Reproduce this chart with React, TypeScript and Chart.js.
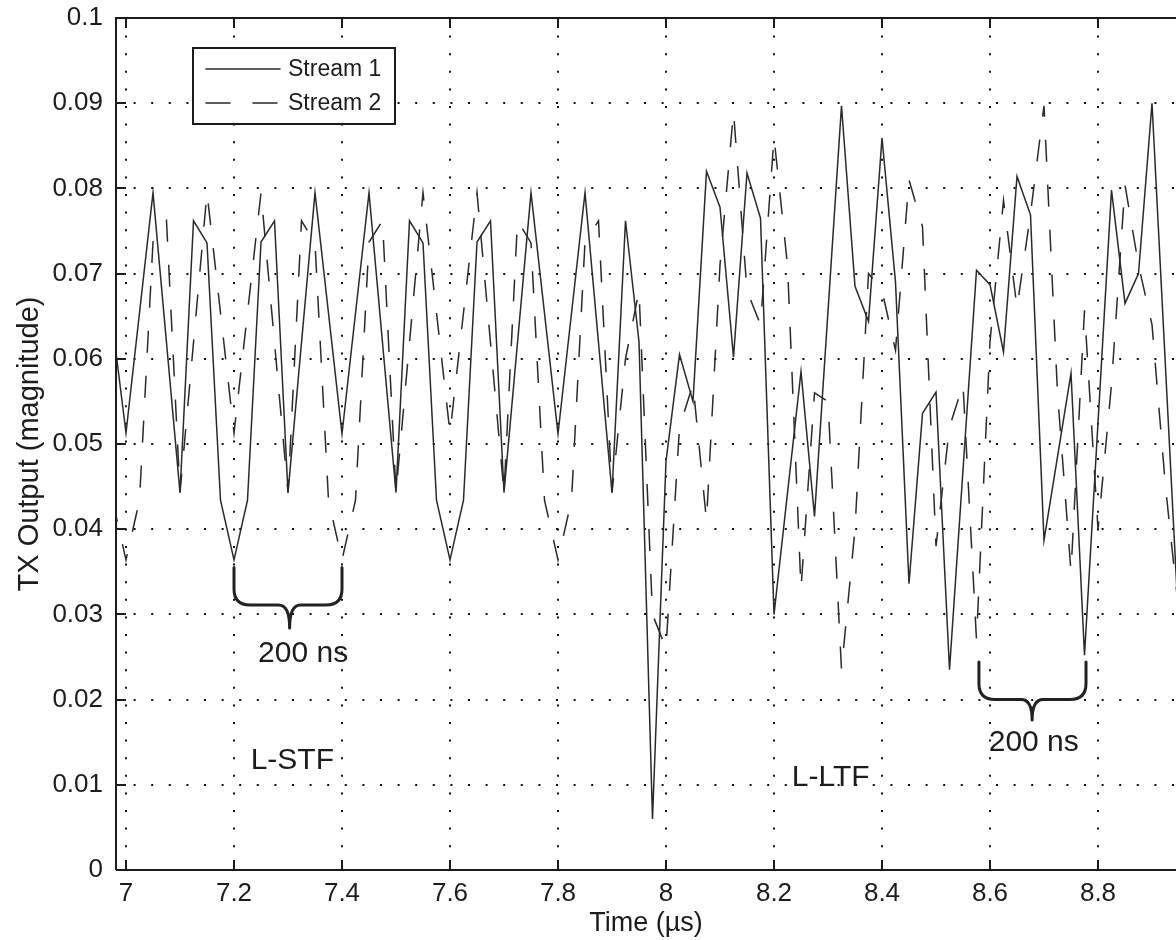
import React, { useEffect, useRef } from "react";
import { Chart, registerables } from "chart.js";

Chart.register(...registerables);

const FONT = "'Liberation Sans', Arial, Helvetica, sans-serif";

// ---- data ----
const stream1Time = [
  6.975, 7.0, 7.05, 7.1, 7.125, 7.15, 7.175, 7.2, 7.225, 7.25, 7.275, 7.3, 7.35, 7.4,
  7.45, 7.5, 7.525, 7.55, 7.575, 7.6, 7.625, 7.65, 7.675, 7.7, 7.75, 7.8, 7.85, 7.9,
  7.925, 7.95, 7.975, 8.0, 8.025, 8.05, 8.075, 8.1, 8.125, 8.15, 8.175, 8.2, 8.25,
  8.275, 8.325, 8.35, 8.375, 8.4, 8.425, 8.45, 8.475, 8.5, 8.525, 8.575, 8.6, 8.625,
  8.65, 8.675, 8.7, 8.75, 8.775, 8.825, 8.85, 8.875, 8.9, 8.95,
];
const stream1Magnitude = [
  0.064, 0.0513, 0.0795, 0.0443, 0.0762, 0.0736, 0.0434, 0.0364, 0.0434, 0.0737, 0.0762, 0.0443, 0.0795, 0.0512,
  0.0795, 0.0443, 0.0762, 0.0736, 0.0434, 0.0364, 0.0434, 0.0737, 0.0762, 0.0443, 0.0795, 0.0512, 0.0795, 0.0443,
  0.0762, 0.062, 0.006, 0.048, 0.0605, 0.055, 0.082, 0.0778, 0.0602, 0.0818, 0.0765, 0.030, 0.0585,
  0.0415, 0.0897, 0.0685, 0.0644, 0.0859, 0.069, 0.0336, 0.0536, 0.0561, 0.0235, 0.0704, 0.0687, 0.0608,
  0.0814, 0.0769, 0.0387, 0.0583, 0.0252, 0.0798, 0.0665, 0.070, 0.090, 0.028,
];

const stream2Time = [
  6.975, 7.0, 7.025, 7.05, 7.075, 7.1, 7.15, 7.2, 7.25, 7.3, 7.325, 7.35, 7.375, 7.4,
  7.425, 7.45, 7.475, 7.5, 7.55, 7.6, 7.65, 7.7, 7.725, 7.75, 7.775, 7.8, 7.825, 7.85,
  7.875, 7.9, 7.925, 7.95, 7.975, 8.0, 8.025, 8.05, 8.075, 8.1, 8.125, 8.15, 8.175,
  8.2, 8.225, 8.25, 8.275, 8.3, 8.325, 8.35, 8.375, 8.4, 8.425, 8.45, 8.475, 8.5,
  8.525, 8.55, 8.575, 8.6, 8.625, 8.65, 8.675, 8.7, 8.725, 8.75, 8.775, 8.8, 8.825,
  8.85, 8.875, 8.9, 8.925, 8.95,
];
const stream2Magnitude = [
  0.0434, 0.0364, 0.0434, 0.0737, 0.0762, 0.0443, 0.0795, 0.0513, 0.0795, 0.0443, 0.0762, 0.0736, 0.0434, 0.0364,
  0.0434, 0.0737, 0.0762, 0.0443, 0.0795, 0.0513, 0.0795, 0.0443, 0.0762, 0.0736, 0.0434, 0.0364, 0.0434, 0.0737,
  0.0762, 0.0443, 0.060, 0.068, 0.030, 0.026, 0.052, 0.057, 0.041, 0.071, 0.089, 0.068, 0.064,
  0.086, 0.071, 0.033, 0.056, 0.055, 0.0235, 0.040, 0.070, 0.068, 0.061, 0.081, 0.0755, 0.038,
  0.052, 0.057, 0.027, 0.062, 0.0786, 0.066, 0.077, 0.0897, 0.056, 0.035, 0.0657, 0.040, 0.057,
  0.0804, 0.071, 0.064, 0.045, 0.030,
];

const seriesNames = ["Stream 1", "Stream 2"];
const xTickValues = [7, 7.2, 7.4, 7.6, 7.8, 8, 8.2, 8.4, 8.6, 8.8];
const xTickLabels = ["7", "7.2", "7.4", "7.6", "7.8", "8", "8.2", "8.4", "8.6", "8.8"];
const yTickValues = [0, 0.01, 0.02, 0.03, 0.04, 0.05, 0.06, 0.07, 0.08, 0.09, 0.1];
const yTickLabels = ["0", "0.01", "0.02", "0.03", "0.04", "0.05", "0.06", "0.07", "0.08", "0.09", "0.1"];
const xAxisTitle = "Time (\u00b5s)";
const yAxisTitle = "TX Output (magnitude)";
const xLimits = [6.98148, 8.94444];
const yLimits = [0, 0.1];

// annotations, in data coordinates
const braceFrom = [7.2, 8.5795];
const braceTo = [7.4, 8.7778];
const braceMid = [7.303, 8.678];
const braceTop = [0.0355, 0.0244];
const braceBar = [0.0311, 0.0200];
const braceTip = [0.0284, 0.0176];
const noteTexts = ["200 ns", "200 ns", "L-STF", "L-LTF"];
const noteX = [7.328, 8.681, 7.308, 8.305];
const noteY = [0.0254, 0.0149, 0.0128, 0.0108];

const INK = "#1c1c1c";
const LINE = "#2a2a2a";

const decorations = {
  id: "decorations",
  afterDraw(chart: any) {
    const { ctx, chartArea: a, scales } = chart;
    const xs = scales.x;
    const ys = scales.y;
    ctx.save();

    // axes frame (box), right side cut by the picture edge
    ctx.strokeStyle = INK;
    ctx.lineWidth = 2;
    ctx.setLineDash([]);
    ctx.beginPath();
    ctx.moveTo(a.left, a.bottom);
    ctx.lineTo(a.left, a.top);
    ctx.lineTo(a.right, a.top);
    ctx.moveTo(a.left, a.bottom);
    ctx.lineTo(a.right, a.bottom);
    ctx.stroke();

    // inward tick marks
    ctx.beginPath();
    xTickValues.forEach((v) => {
      const px = Math.round(xs.getPixelForValue(v));
      ctx.moveTo(px, a.bottom);
      ctx.lineTo(px, a.bottom - 10);
      ctx.moveTo(px, a.top);
      ctx.lineTo(px, a.top + 10);
    });
    yTickValues.forEach((v) => {
      const py = Math.round(ys.getPixelForValue(v));
      ctx.moveTo(a.left, py);
      ctx.lineTo(a.left + 10, py);
    });
    ctx.stroke();

    // braces
    ctx.lineWidth = 3;
    ctx.strokeStyle = "#222";
    ctx.lineCap = "round";
    for (let i = 0; i < braceFrom.length; i++) {
      const x1 = xs.getPixelForValue(braceFrom[i]);
      const x2 = xs.getPixelForValue(braceTo[i]);
      const xm = xs.getPixelForValue(braceMid[i]);
      const y0 = ys.getPixelForValue(braceTop[i]);
      const yc = ys.getPixelForValue(braceBar[i]);
      const yt = ys.getPixelForValue(braceTip[i]);
      const r = 16;
      const r2 = 11;
      ctx.beginPath();
      ctx.moveTo(x1, y0);
      ctx.lineTo(x1, yc - r);
      ctx.quadraticCurveTo(x1, yc, x1 + r, yc);
      ctx.lineTo(xm - r2, yc);
      ctx.quadraticCurveTo(xm, yc, xm, yt);
      ctx.moveTo(x2, y0);
      ctx.lineTo(x2, yc - r);
      ctx.quadraticCurveTo(x2, yc, x2 - r, yc);
      ctx.lineTo(xm + r2, yc);
      ctx.quadraticCurveTo(xm, yc, xm, yt);
      ctx.stroke();
    }

    // text notes
    ctx.fillStyle = INK;
    ctx.font = `30px ${FONT}`;
    ctx.textAlign = "center";
    ctx.textBaseline = "middle";
    noteTexts.forEach((t, i) => {
      ctx.fillText(t, xs.getPixelForValue(noteX[i]), ys.getPixelForValue(noteY[i]));
    });

    // legend
    const lx = a.left + 77;
    const ly = a.top + 30;
    const lw = 202;
    const lh = 76;
    ctx.fillStyle = "#ffffff";
    ctx.fillRect(lx, ly, lw, lh);
    ctx.lineWidth = 2;
    ctx.strokeStyle = INK;
    ctx.strokeRect(lx, ly, lw, lh);
    const dsets = chart.data.datasets;
    for (let i = 0; i < dsets.length; i++) {
      const yy = ly + 21 + i * 34;
      ctx.beginPath();
      ctx.lineWidth = 1.6;
      ctx.strokeStyle = LINE;
      ctx.setLineDash(i === 1 ? [24, 23] : []);
      ctx.moveTo(lx + 13, yy);
      ctx.lineTo(lx + 87, yy);
      ctx.stroke();
      ctx.setLineDash([]);
      ctx.fillStyle = INK;
      ctx.font = `23px ${FONT}`;
      ctx.textAlign = "left";
      ctx.textBaseline = "middle";
      ctx.fillText(dsets[i].label, lx + 95, yy + 1);
    }
    ctx.restore();
  },
};

export default function App() {
  const ref = useRef<HTMLCanvasElement | null>(null);

  useEffect(() => {
    if (!ref.current) return;
    const chart = new Chart(ref.current, {
      type: "line",
      data: {
        datasets: [
          {
            label: seriesNames[0],
            data: stream1Time.map((t, i) => ({ x: t, y: stream1Magnitude[i] })),
            borderColor: LINE,
            borderWidth: 1.5,
            pointRadius: 0,
            tension: 0,
            fill: false,
          },
          {
            label: seriesNames[1],
            data: stream2Time.map((t, i) => ({ x: t, y: stream2Magnitude[i] })),
            borderColor: LINE,
            borderWidth: 1.5,
            borderDash: [22, 23],
            pointRadius: 0,
            tension: 0,
            fill: false,
          },
        ],
      },
      options: {
        responsive: false,
        animation: false,
        devicePixelRatio: 1,
        layout: { padding: { top: 18, right: 0, bottom: 0, left: 0 } },
        plugins: {
          legend: { display: false },
          tooltip: { enabled: false },
          title: { display: false },
        },
        scales: {
          x: {
            type: "linear",
            position: "bottom",
            min: xLimits[0],
            max: xLimits[1],
            afterBuildTicks: (scale: any) => {
              scale.ticks = xTickValues.map((value) => ({ value }));
            },
            afterFit: (scale: any) => {
              scale.height = 70;
              scale.paddingLeft = 0;
              scale.paddingRight = 0;
            },
            ticks: {
              autoSkip: false,
              maxRotation: 0,
              padding: 8,
              color: INK,
              font: { family: FONT, size: 26 },
              callback: (_v: any, i: number) => xTickLabels[i],
            },
            grid: {
              color: "#111",
              lineWidth: 2,
              drawTicks: false,
              drawOnChartArea: true,
            },
            border: { display: false, dash: [2, 15.6] },
            title: {
              display: true,
              text: xAxisTitle,
              color: INK,
              font: { family: FONT, size: 27 },
              padding: { top: 0, bottom: 0 },
            },
          },
          y: {
            type: "linear",
            position: "left",
            min: yLimits[0],
            max: yLimits[1],
            afterBuildTicks: (scale: any) => {
              scale.ticks = yTickValues.map((value) => ({ value }));
            },
            afterFit: (scale: any) => {
              scale.width = 116;
              scale.paddingTop = 0;
              scale.paddingBottom = 0;
            },
            ticks: {
              padding: 13,
              color: INK,
              font: { family: FONT, size: 26 },
              callback: (_v: any, i: number) => yTickLabels[i],
            },
            grid: {
              color: "#111",
              lineWidth: 2,
              drawTicks: false,
              drawOnChartArea: true,
            },
            border: { display: false, dash: [2, 15.6] },
            title: {
              display: true,
              text: yAxisTitle,
              color: INK,
              font: { family: FONT, size: 29 },
              padding: { top: 13, bottom: 0 },
            },
          },
        },
      },
      plugins: [decorations],
    });
    return () => chart.destroy();
  }, []);

  return (
    <div style={{ position: "absolute", left: 0, top: 0, width: 1176, height: 940, background: "#fff" }}>
      <canvas ref={ref} width={1176} height={940} style={{ display: "block" }} />
    </div>
  );
}
